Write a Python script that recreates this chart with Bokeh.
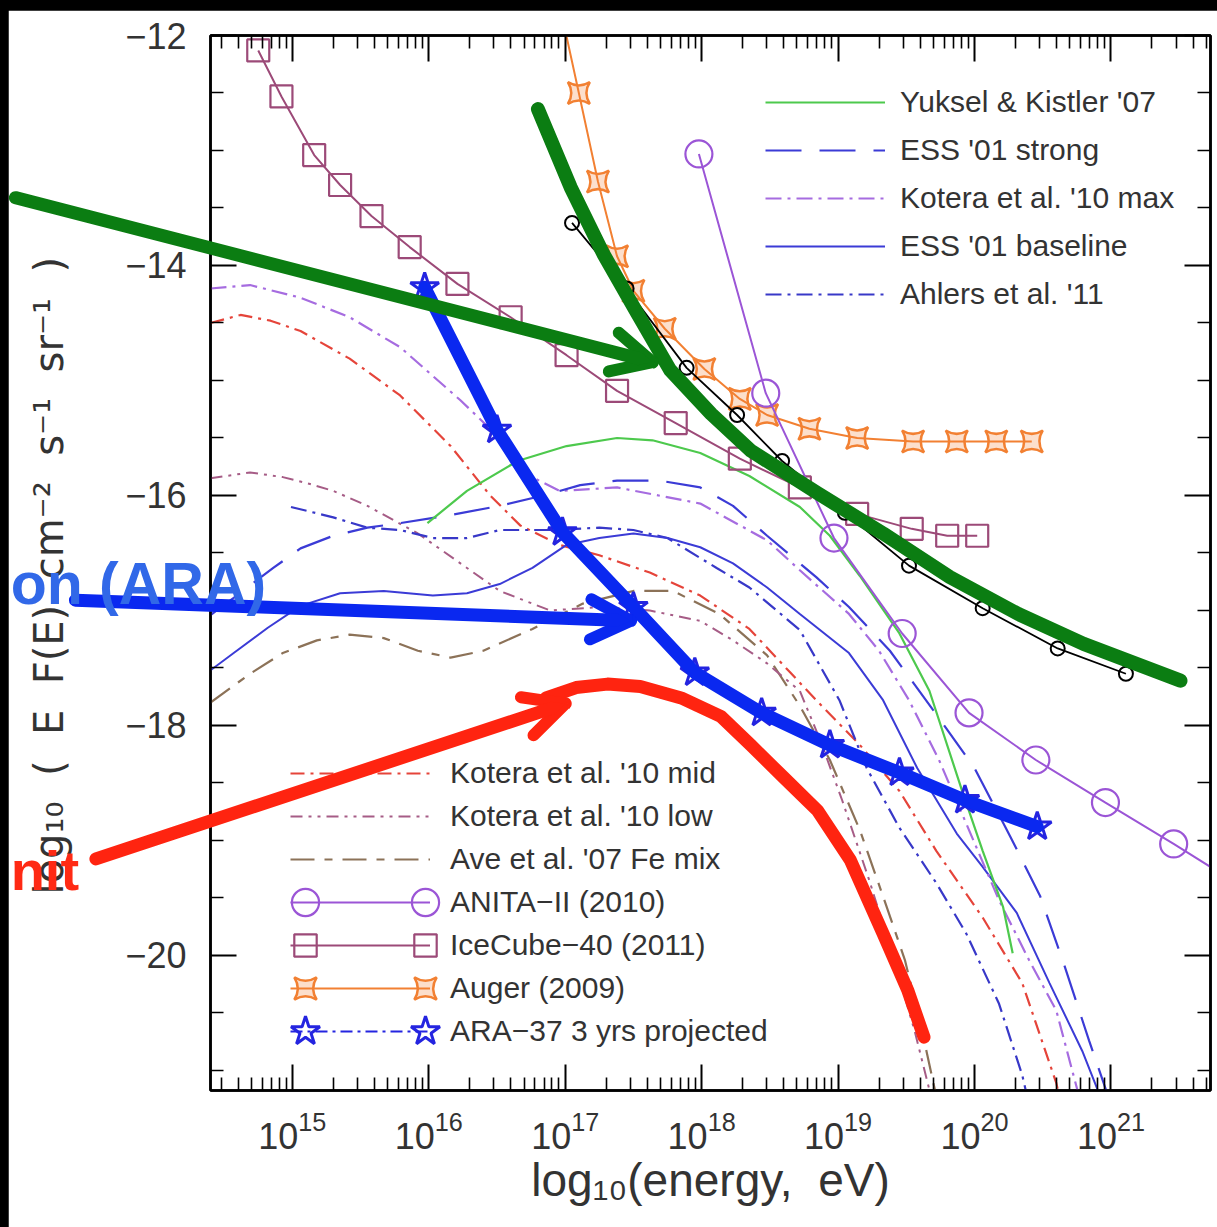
from bokeh.plotting import figure
from bokeh.models import (Range1d, FixedTicker, LinearAxis, LogAxis, Legend,
                          LegendItem, Arrow, OpenHead, Label, GridBox)
from bokeh.embed import file_html
from bokeh.resources import INLINE

# ---------------- data: log10(energy / eV) and log10(E F(E) / cm^-2 s^-1 sr^-1) ----------------
yuksel_logE = [15.99, 16.28, 16.65, 17.01, 17.38, 17.64, 17.99, 18.35, 18.72, 18.94, 19.16, 19.45, 19.67, 19.91, 20.06, 20.21, 20.28]
yuksel_logF = [-16.24, -15.96, -15.70, -15.57, -15.50, -15.52, -15.63, -15.83, -16.10, -16.35, -16.70, -17.20, -17.70, -18.57, -19.09, -19.58, -19.98]

ess_strong_logE = [14.40, 14.57, 14.86, 15.06, 15.30, 15.55, 15.79, 16.16, 16.52, 16.84, 17.11, 17.38, 17.69, 17.99, 18.23, 18.48, 18.84, 19.08, 19.38, 19.70, 20.00, 20.26, 20.48, 20.66, 20.84, 20.97, 21.05]
ess_strong_logF = [-17.04, -16.89, -16.63, -16.46, -16.35, -16.28, -16.24, -16.17, -16.09, -16.00, -15.91, -15.87, -15.87, -15.93, -16.09, -16.35, -16.71, -16.97, -17.35, -17.87, -18.37, -18.96, -19.48, -20.09, -20.74, -21.19, -21.50]

kotera_max_logE = [14.40, 14.69, 15.06, 15.42, 15.79, 16.23, 16.52, 16.74, 16.96, 17.38, 17.99, 18.48, 18.72, 19.08, 19.30, 19.52, 19.74, 19.96, 20.18, 20.40, 20.60, 20.75, 20.80]
kotera_max_logF = [-14.20, -14.17, -14.28, -14.45, -14.71, -15.17, -15.50, -15.83, -15.96, -15.93, -16.07, -16.39, -16.65, -17.03, -17.35, -17.78, -18.30, -18.91, -19.52, -20.04, -20.48, -21.15, -21.40]

ess_base_logE = [14.40, 14.57, 14.82, 15.06, 15.35, 15.67, 16.03, 16.28, 16.52, 16.76, 17.01, 17.25, 17.50, 17.75, 17.99, 18.23, 18.48, 18.72, 19.08, 19.33, 19.58, 19.87, 20.06, 20.31, 20.55, 20.79, 20.92, 21.00]
ess_base_logF = [-17.52, -17.37, -17.15, -16.96, -16.85, -16.83, -16.87, -16.85, -16.77, -16.63, -16.43, -16.37, -16.33, -16.37, -16.45, -16.59, -16.80, -17.03, -17.37, -17.78, -18.37, -18.94, -19.23, -19.63, -20.24, -20.83, -21.22, -21.45]

ahlers_logE = [14.99, 15.30, 15.55, 15.79, 16.03, 16.28, 16.52, 16.89, 17.25, 17.50, 17.75, 18.11, 18.35, 18.72, 19.01, 19.21, 19.45, 19.72, 19.94, 20.18, 20.35, 20.40]
ahlers_logF = [-16.10, -16.19, -16.28, -16.30, -16.37, -16.37, -16.30, -16.30, -16.28, -16.30, -16.37, -16.63, -16.80, -17.17, -17.78, -18.37, -18.89, -19.37, -19.81, -20.42, -21.04, -21.30]

kotera_mid_logE = [14.40, 14.62, 14.84, 15.06, 15.42, 15.79, 16.16, 16.45, 16.67, 16.96, 17.25, 17.62, 17.99, 18.35, 18.65, 18.84, 19.16, 19.45, 19.72, 20.06, 20.35, 20.60, 20.66]
kotera_mid_logF = [-14.50, -14.43, -14.48, -14.57, -14.81, -15.13, -15.57, -16.00, -16.26, -16.43, -16.52, -16.67, -16.87, -17.16, -17.54, -17.78, -18.17, -18.57, -19.09, -19.67, -20.24, -21.11, -21.43]

kotera_low_logE = [14.40, 14.69, 14.93, 15.13, 15.30, 15.55, 15.92, 16.28, 16.52, 16.89, 17.25, 17.62, 17.99, 18.23, 18.48, 18.72, 18.87, 19.03, 19.23, 19.41, 19.56, 19.67, 19.72]
kotera_low_logF = [-15.85, -15.80, -15.84, -15.90, -15.96, -16.09, -16.33, -16.63, -16.83, -17.00, -16.97, -17.00, -17.09, -17.26, -17.46, -17.70, -18.13, -18.65, -19.35, -20.04, -20.65, -21.17, -21.40]

ave_logE = [14.40, 14.69, 14.93, 15.18, 15.42, 15.67, 15.92, 16.16, 16.40, 16.76, 17.13, 17.50, 17.79, 18.13, 18.48, 18.72, 18.94, 19.16, 19.34, 19.49, 19.60, 19.71, 19.76]
ave_logF = [-17.80, -17.55, -17.37, -17.26, -17.21, -17.24, -17.35, -17.41, -17.35, -17.16, -16.94, -16.83, -16.83, -17.03, -17.39, -17.83, -18.30, -18.91, -19.52, -20.04, -20.57, -21.17, -21.45]

anita_logE = [17.98, 18.47, 18.97, 19.47, 19.96, 20.45, 20.96, 21.46, 21.96]
anita_logF = [-13.03, -15.11, -16.37, -17.20, -17.89, -18.30, -18.67, -19.03, -19.40]

icecube_logE = [14.75, 14.92, 15.16, 15.35, 15.58, 15.86, 16.21, 16.60, 17.01, 17.38, 17.81, 18.28, 18.72, 19.14, 19.54, 19.80, 20.02]
icecube_logF = [-12.13, -12.53, -13.04, -13.30, -13.57, -13.84, -14.16, -14.45, -14.78, -15.09, -15.37, -15.68, -15.93, -16.16, -16.29, -16.35, -16.35]

auger_logE = [16.99, 17.10, 17.24, 17.38, 17.50, 17.73, 18.02, 18.28, 18.48, 18.79, 19.14, 19.55, 19.87, 20.16, 20.42]
auger_logF = [-11.90, -12.50, -13.27, -13.92, -14.22, -14.55, -14.90, -15.16, -15.30, -15.42, -15.50, -15.53, -15.53, -15.53, -15.53]

other_logE = [17.05, 17.45, 17.89, 18.26, 18.59, 19.05, 19.52, 20.06, 20.61, 21.11]
other_logF = [-13.63, -14.20, -14.89, -15.30, -15.70, -16.15, -16.61, -16.98, -17.33, -17.55]

ara_logE = [15.97, 16.50, 16.98, 17.50, 17.95, 18.44, 18.94, 19.45, 19.93, 20.46]
ara_logF = [-14.19, -15.43, -16.32, -16.97, -17.54, -17.89, -18.17, -18.41, -18.65, -18.88]

# hand-drawn highlight strokes laid over the plot
stroke_green_logE = [16.80, 17.04, 17.28, 17.53, 17.77, 18.07, 18.36, 18.85, 19.33, 19.82, 20.32, 20.80, 21.51]
stroke_green_logF = [-12.64, -13.32, -13.90, -14.42, -14.91, -15.29, -15.61, -15.98, -16.33, -16.71, -17.03, -17.29, -17.61]
stroke_red_logE = [16.86, 17.08, 17.31, 17.55, 17.85, 18.14, 18.36, 18.60, 18.85, 19.09, 19.33, 19.51, 19.63]
stroke_red_logF = [-17.76, -17.67, -17.64, -17.66, -17.76, -17.92, -18.17, -18.45, -18.74, -19.17, -19.81, -20.30, -20.71]

x_decades = [15, 16, 17, 18, 19, 20, 21]
y_major = [-20, -18, -16, -14, -12]
y_minor = [-21.0, -20.5, -19.5, -19.0, -18.5, -17.5, -17.0, -16.5, -15.5, -15.0, -14.5, -13.5, -13.0, -12.5]

# ---------------- geometry ----------------
XMIN, XMAX = 14.4, 21.73
YMIN, YMAX = -21.174, -12.0
W, H = 1209, 1217
BL, BR, BT, BB = 202, 7, 25, 137
FONT = "Liberation Sans"
INK = "#333333"
NB = "\u00a0"


def energies(logs):
    return [10.0 ** v for v in logs]


p = figure(width=W, height=H, x_axis_type="log",
           x_range=Range1d(10 ** XMIN, 10 ** XMAX), y_range=Range1d(YMIN, YMAX),
           output_backend="svg", toolbar_location=None,
           min_border_left=BL, min_border_right=BR, min_border_top=BT, min_border_bottom=BB,
           margin=(10, 0, 0, 8), background_fill_color="white", border_fill_color="white")
p.frame_align = False
p.grid.visible = False
p.outline_line_color = "black"
p.outline_line_width = 2.5

x_ticker = FixedTicker(ticks=[10.0 ** d for d in x_decades],
                       minor_ticks=[m * 10.0 ** d for d in range(14, 22) for m in range(2, 10)])
y_ticker = FixedTicker(ticks=y_major, minor_ticks=y_minor)


def style_axis(ax, show_labels):
    ax.axis_line_color = "black"
    ax.axis_line_width = 2.5
    ax.major_tick_in = 26
    ax.major_tick_out = 0
    ax.minor_tick_in = 13
    ax.minor_tick_out = 0
    ax.major_tick_line_width = 2
    ax.minor_tick_line_width = 1.6
    ax.major_tick_line_color = "black"
    ax.minor_tick_line_color = "black"
    if show_labels:
        ax.major_label_text_font = FONT
        ax.major_label_text_font_size = "36px"
        ax.major_label_text_color = INK
        ax.axis_label_text_font = FONT
        ax.axis_label_text_font_style = "normal"
        ax.axis_label_text_color = INK
    else:
        ax.major_label_text_font_size = "1px"
        ax.major_label_text_alpha = 0
        ax.major_label_standoff = 0


xa = p.xaxis[0]
xa.ticker = x_ticker
style_axis(xa, True)
xa.major_label_standoff = 20
xa.axis_label = "log\u2081\u2080(energy," + NB + " eV)"
xa.axis_label_standoff = 2
xa.axis_label_text_font_size = "46px"

ya = p.yaxis[0]
ya.ticker = y_ticker
style_axis(ya, True)
ya.major_label_standoff = 24
ya.major_label_overrides = {v: "\u2212" + str(abs(v)) for v in y_major}
ya.axis_label = (NB + " ").join(["log\u2081\u2080", "(", "E", "F(E)", "cm\u207b\u00b2",
                                 "s\u207b\u00b9", "sr\u207b\u00b9", ")"]) + NB * 2
ya.axis_label_standoff = 50
ya.axis_label_text_font = "DejaVu Sans"
ya.axis_label_text_font_size = "40px"

top_axis = LogAxis(ticker=x_ticker)
style_axis(top_axis, False)
p.add_layout(top_axis, "above")
right_axis = LinearAxis(ticker=y_ticker)
style_axis(right_axis, False)
p.add_layout(right_axis, "right")

# ---------------- model curves ----------------
r_ave = p.line(energies(ave_logE), ave_logF, line_color="#8c7258", line_width=2.2, line_dash="24 10 8 10")
r_klow = p.line(energies(kotera_low_logE), kotera_low_logF, line_color="#a65c86", line_width=2, line_dash="12 6 3 6 3 6")
r_kmid = p.line(energies(kotera_mid_logE), kotera_mid_logF, line_color="#e5443a", line_width=2.2, line_dash="14 6 3 6")
r_ahl = p.line(energies(ahlers_logE), ahlers_logF, line_color="#3838c8", line_width=2.2, line_dash="16 6 3 6")
r_essb = p.line(energies(ess_base_logE), ess_base_logF, line_color="#3b3bd6", line_width=2)
r_kmax = p.line(energies(kotera_max_logE), kotera_max_logF, line_color="#a66ce0", line_width=2.2, line_dash="16 6 3 6")
r_esss = p.line(energies(ess_strong_logE), ess_strong_logF, line_color="#3b3bd6", line_width=2.2, line_dash="36 18")
r_yk = p.line(energies(yuksel_logE), yuksel_logF, line_color="#4dc94d", line_width=2.2)

# ---------------- experimental limits ----------------
r_ic_l = p.line(energies(icecube_logE), icecube_logF, line_color="#9c4a78", line_width=2)
r_ic_m = p.scatter(energies(icecube_logE), icecube_logF, marker="square", size=22,
                   line_color="#9c4a78", line_width=2.2, fill_color=None)

r_au_l = p.line(energies(auger_logE), auger_logF, line_color="#f28032", line_width=2)
r_au_m = p.scatter(energies(auger_logE), auger_logF, marker="square_pin", size=22,
                   line_color="#f28032", line_width=2.5, fill_color="#f28032", fill_alpha=0.25)

r_ot_l = p.line(energies(other_logE), other_logF, line_color="black", line_width=1.8)
r_ot_m = p.scatter(energies(other_logE), other_logF, marker="circle", size=14,
                   line_color="black", line_width=2, fill_color=None)

r_an_l = p.line(energies(anita_logE), anita_logF, line_color="#9b55d6", line_width=2)
r_an_m = p.scatter(energies(anita_logE), anita_logF, marker="circle", size=27,
                   line_color="#9b55d6", line_width=2.2, fill_color=None)

r_ara_l = p.line(energies(ara_logE), ara_logF, line_color="#2424e0", line_width=2, line_dash="12 5 3 5")
r_ara_m = p.scatter(energies(ara_logE), ara_logF, marker="star", size=30,
                    line_color="#2424e0", line_width=3, fill_color=None)

legend_style = dict(background_fill_alpha=0, border_line_color=None, padding=0, margin=0,
                    label_text_font=FONT, label_text_color=INK, label_text_font_size="30px",
                    glyph_height=34, label_height=34)

leg_models = Legend(items=[
    LegendItem(label="Yuksel & Kistler '07", renderers=[r_yk]),
    LegendItem(label="ESS '01 strong", renderers=[r_esss]),
    LegendItem(label="Kotera et al. '10 max", renderers=[r_kmax]),
    LegendItem(label="ESS '01 baseline", renderers=[r_essb]),
    LegendItem(label="Ahlers et al. '11", renderers=[r_ahl]),
], location=(555, 779), spacing=14, glyph_width=120, label_standoff=15, **legend_style)

leg_data = Legend(items=[
    LegendItem(label="Kotera et al. '10 mid", renderers=[r_kmid]),
    LegendItem(label="Kotera et al. '10 low", renderers=[r_klow]),
    LegendItem(label="Ave et al. '07 Fe mix", renderers=[r_ave]),
    LegendItem(label="ANITA\u2212II (2010)", renderers=[r_an_l]),
    LegendItem(label="IceCube\u221240 (2011)", renderers=[r_ic_l]),
    LegendItem(label="Auger (2009)", renderers=[r_au_l]),
    LegendItem(label="ARA\u221237 3 yrs projected", renderers=[r_ara_l]),
], location=(80, 42), spacing=9, glyph_width=140, label_standoff=20, **legend_style)

p.add_layout(leg_models)
p.add_layout(leg_data)

# symbol keys drawn at both ends of the experiment legend lines
# (legend symbols are sized at 0.4 of the glyph box, so the box sets the symbol size)
key_rows = [(r_an_m, 902, 68), (r_ic_m, 945, 56), (r_au_m, 988, 56), (r_ara_m, 1031, 76)]
frame_bottom = BT + (H - BT - BB)
for renderer, row_center, box in key_rows:
    for key_center in (305 - 8, 425 - 8):
        p.add_layout(Legend(items=[LegendItem(label=" ", renderers=[renderer])],
                            location=(key_center - box / 2 - BL,
                                      frame_bottom - (row_center - 10) - box / 2),
                            glyph_width=box, glyph_height=box, label_height=box,
                            label_standoff=0, label_width=1, label_text_alpha=0,
                            background_fill_alpha=0, border_line_color=None,
                            padding=0, margin=0, label_text_font_size="30px"))

# ---------------- overlay canvas for the highlight strokes ----------------
ppx = (W - BL - BR) / (XMAX - XMIN)
ppy = (H - BT - BB) / (YMAX - YMIN)
OX0, OX1 = XMIN - BL / ppx, XMAX + BR / ppx
OY0, OY1 = YMIN - BB / ppy, YMAX + BT / ppy

ov = figure(width=W, height=H, x_axis_type="log",
            x_range=Range1d(10 ** OX0, 10 ** OX1), y_range=Range1d(OY0, OY1),
            x_axis_location=None, y_axis_location=None,
            output_backend="svg", toolbar_location=None,
            min_border=0, margin=(10, 0, 0, 8),
            background_fill_color=None, border_fill_color=None, outline_line_color=None)
ov.frame_align = False
ov.grid.visible = False

GREEN_HL = "#0b7d12"
BLUE_HL = "#0a28f0"
RED_HL = "#ff2410"

ov.line(energies(stroke_green_logE), stroke_green_logF, line_color=GREEN_HL, line_width=14,
        line_cap="round", line_join="round")
ov.line(energies(ara_logE), ara_logF, line_color=BLUE_HL, line_width=13,
        line_cap="round", line_join="round")
ov.line(energies(stroke_red_logE), stroke_red_logF, line_color=RED_HL, line_width=13,
        line_cap="round", line_join="round")

for color, x0, y0, x1, y1 in [(GREEN_HL, 12.97, -13.41, 17.64, -14.84),
                              (BLUE_HL, 13.41, -16.91, 17.48, -17.09),
                              (RED_HL, 13.56, -19.16, 17.00, -17.81)]:
    ov.add_layout(Arrow(end=OpenHead(size=40, line_color=color, line_width=12, line_cap="round"),
                        x_start=10 ** x0, y_start=y0, x_end=10 ** x1, y_end=y1,
                        line_color=color, line_width=13, line_cap="round"))

ov.add_layout(Label(x=10 ** 12.935, y=-16.77, text="on (ARA)", text_align="left",
                    text_baseline="alphabetic", text_font=FONT, text_font_style="bold",
                    text_font_size="59px", text_color="#3168e8"))
ov.add_layout(Label(x=10 ** 12.935, y=-19.26, text="nit", text_align="left",
                    text_baseline="alphabetic", text_font=FONT, text_font_style="bold",
                    text_font_size="56px", text_color="#ff2a14"))

page = GridBox(children=[(p, 0, 0), (ov, 0, 0)], styles={"background-color": "black"})

open("out.html", "w").write(file_html(page, INLINE))
